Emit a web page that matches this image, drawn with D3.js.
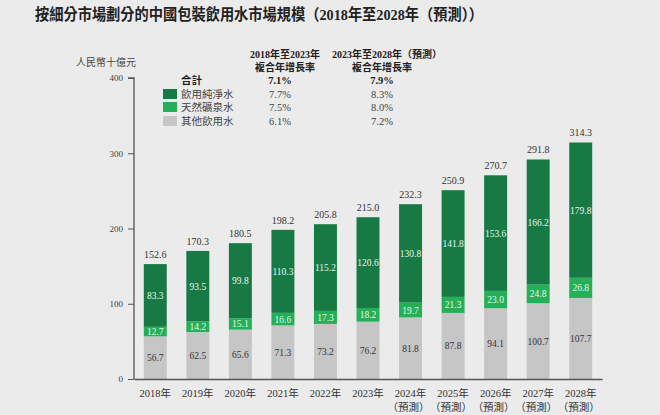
<!DOCTYPE html>
<html><head><meta charset="utf-8">
<script src="https://cdn.jsdelivr.net/npm/d3@7"></script>
<style>
html,body{margin:0;padding:0;background:#ebebeb;}
svg{display:block;}
</style></head>
<body>
<svg id="chart" width="660" height="415"></svg>
<script>
const years = ["2018年","2019年","2020年","2021年","2022年","2023年","2024年","2025年","2026年","2027年","2028年"];
const forecast = [false,false,false,false,false,false,true,true,true,true,true];
const otherWater = [56.7,62.5,65.6,71.3,73.2,76.2,81.8,87.8,94.1,100.7,107.7];
const mineralWater = [12.7,14.2,15.1,16.6,17.3,18.2,19.7,21.3,23.0,24.8,26.8];
const purifiedWater = [83.3,93.5,99.8,110.3,115.2,120.6,130.8,141.8,153.6,166.2,179.8];
const totals = [152.6,170.3,180.5,198.2,205.8,215.0,232.3,250.9,270.7,291.8,314.3];
const yTicks = [0,100,200,300,400];
const seriesNames = ["飲用純淨水","天然礦泉水","其他飲用水"];
const cagr1 = ["7.1%","7.7%","7.5%","6.1%"];
const cagr2 = ["7.9%","8.3%","8.0%","7.2%"];

const colors = {"其他飲用水":"#c6c6c6","天然礦泉水":"#24b057","飲用純淨水":"#177a45"};
const serif = "'Liberation Serif','DejaVu Serif','Noto Sans CJK TC',serif";
const cjk = "'Liberation Serif','Noto Sans CJK TC',sans-serif";

const svg = d3.select("#chart");
const W = 660, H = 415;
const m = {left:134, right:58, top:78, bottom:36};

const x = d3.scaleBand().domain(years).range([m.left, W - m.right]).paddingInner(0.46).paddingOuter(0.23);
const y = d3.scaleLinear().domain([0,400]).range([H - m.bottom, m.top]);

// title
svg.append("text").attr("x",35).attr("y",20).attr("text-anchor","start")
  .attr("font-family",cjk).attr("font-size",15.5).attr("font-weight","bold").attr("fill","#222")
  .attr("textLength",448).attr("lengthAdjust","spacingAndGlyphs")
  .text("按細分市場劃分的中國包裝飲用水市場規模（2018年至2028年（預測））");

// stacked data
const rows = years.map((yr,i)=>({year:yr,"其他飲用水":otherWater[i],"天然礦泉水":mineralWater[i],"飲用純淨水":purifiedWater[i]}));
const stack = d3.stack().keys(["其他飲用水","天然礦泉水","飲用純淨水"])(rows);

const g = svg.append("g");
stack.forEach(layer=>{
  g.selectAll(null).data(layer).enter().append("rect")
    .attr("x",d=>x(d.data.year)).attr("width",x.bandwidth())
    .attr("y",d=>y(d[1])).attr("height",d=>y(d[0])-y(d[1]))
    .attr("fill",colors[layer.key]);
  g.selectAll(null).data(layer).enter().append("text")
    .attr("x",d=>x(d.data.year)+x.bandwidth()/2)
    .attr("y",d=>(y(d[0])+y(d[1]))/2+3.5)
    .attr("text-anchor","middle").attr("font-family",serif).attr("font-size",9.5)
    .attr("fill",layer.key==="其他飲用水"?"#333":"#e8f5ec")
    .text(d=>d.data[layer.key].toFixed(1));
});

// totals
g.selectAll(null).data(years).enter().append("text")
  .attr("x",d=>x(d)+x.bandwidth()/2)
  .attr("y",(d,i)=>y(totals[i])-6)
  .attr("text-anchor","middle").attr("font-family",serif).attr("font-size",10).attr("fill","#333")
  .text((d,i)=>totals[i].toFixed(1));

// y axis
const yAxis = d3.axisLeft(y).tickValues(yTicks).tickSize(6).tickPadding(5).tickFormat(d3.format("d"));
const ya = svg.append("g").attr("transform",`translate(${m.left},0)`).call(yAxis);
ya.select(".domain").attr("stroke","#555").attr("stroke-width",1.3).attr("d",`M-6,${y(400)}H0V${y(0)}`);
ya.selectAll(".tick line").attr("stroke","#555");
ya.selectAll(".tick text").attr("font-family",serif).attr("font-size",9).attr("fill","#444");

// x axis
const xa = svg.append("g").attr("transform",`translate(0,${y(0)})`).call(d3.axisBottom(x).tickSize(0).tickPadding(0).tickFormat(""));
xa.select(".domain").attr("stroke","#555").attr("stroke-width",1.3);
const xl = svg.append("g");
years.forEach((yr,i)=>{
  const cx = x(yr)+x.bandwidth()/2;
  xl.append("text").attr("x",cx).attr("y",y(0)+18).attr("text-anchor","middle")
    .attr("font-family",cjk).attr("font-size",10.5).attr("fill","#333").text(yr);
  if(forecast[i]) xl.append("text").attr("x",cx-2).attr("y",y(0)+32).attr("text-anchor","middle")
    .attr("font-family",cjk).attr("font-size",10.5).attr("fill","#333").text("（預測）");
});

// unit label
svg.append("text").attr("x",106).attr("y",66).attr("text-anchor","middle")
  .attr("font-family",cjk).attr("font-size",10).attr("fill","#444").text("人民幣十億元");

// legend / CAGR table
const leg = svg.append("g");
const col1 = 285, col2 = 382;
leg.append("text").attr("x",col1).attr("y",58).attr("text-anchor","middle").attr("font-family",cjk)
  .attr("font-size",10).attr("font-weight","bold").attr("fill","#222").text("2018年至2023年");
leg.append("text").attr("x",col1).attr("y",71).attr("text-anchor","middle").attr("font-family",cjk)
  .attr("font-size",10).attr("font-weight","bold").attr("fill","#222").text("複合年增長率");
leg.append("text").attr("x",col2+5).attr("y",58).attr("text-anchor","middle").attr("font-family",cjk)
  .attr("font-size",10).attr("font-weight","bold").attr("fill","#222").text("2023年至2028年（預測）");
leg.append("text").attr("x",col2).attr("y",71).attr("text-anchor","middle").attr("font-family",cjk)
  .attr("font-size",10).attr("font-weight","bold").attr("fill","#222").text("複合年增長率");

const rowY = [84,98,111,125];
leg.append("text").attr("x",181).attr("y",rowY[0]).attr("font-family",cjk).attr("font-size",10.5)
  .attr("font-weight","bold").attr("fill","#222").text("合計");
seriesNames.forEach((s,i)=>{
  leg.append("rect").attr("x",163).attr("y",rowY[i+1]-9).attr("width",14).attr("height",10).attr("fill",colors[s]);
  leg.append("text").attr("x",181).attr("y",rowY[i+1]).attr("font-family",cjk).attr("font-size",10.5)
    .attr("fill","#444").text(s);
});
rowY.forEach((ry,i)=>{
  leg.append("text").attr("x",col1-5).attr("y",ry).attr("text-anchor","middle").attr("font-family",serif)
    .attr("font-size",10.5).attr("font-weight",i===0?"bold":"normal").attr("fill",i===0?"#222":"#444").text(cagr1[i]);
  leg.append("text").attr("x",col2).attr("y",ry).attr("text-anchor","middle").attr("font-family",serif)
    .attr("font-size",10.5).attr("font-weight",i===0?"bold":"normal").attr("fill",i===0?"#222":"#444").text(cagr2[i]);
});
</script>
</body></html>
